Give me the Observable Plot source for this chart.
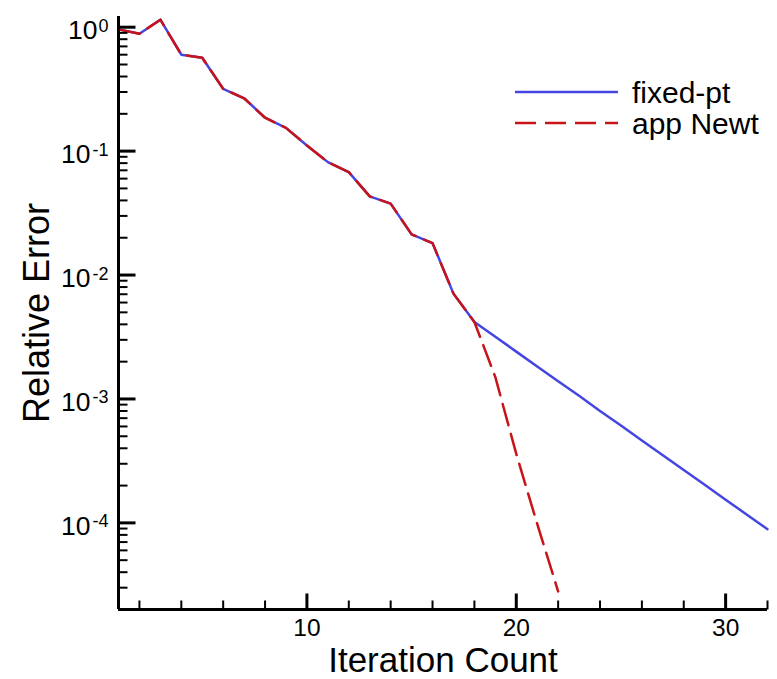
<!DOCTYPE html>
<html>
<head>
<meta charset="utf-8">
<script src="https://cdn.jsdelivr.net/npm/d3@7"></script>
<script src="https://cdn.jsdelivr.net/npm/@observablehq/plot@0.6"></script>
<style>
  body { margin: 0; background: white; }
  #wrap { position: relative; width: 777px; height: 679px; font-family: "Liberation Sans", Arial, sans-serif; }
  #legend { position: absolute; left: 0; top: 0; pointer-events: none; }
</style>
</head>
<body>
<div id="wrap"></div>
<script>
// ---- data ----
const iterations = [1,2,3,4,5,6,7,8,9,10,11,12,13,14,15,16,17,18,19,20,21,22,23,24,25,26,27,28,29,30,31,32];
const fixedPt = [0.96, 0.885, 1.15, 0.60, 0.567, 0.318, 0.267, 0.186, 0.154, 0.111, 0.0815, 0.0677,
  0.0431, 0.0377, 0.0213, 0.0181, 0.00708, 0.00418, 0.00318, 0.00241, 0.00183, 0.00139, 0.00106,
  0.00080, 0.00061, 0.000463, 0.000352, 0.000267, 0.000203, 0.000154, 0.000117, 0.000089];
const appNewt = [0.96, 0.885, 1.15, 0.60, 0.567, 0.318, 0.267, 0.186, 0.154, 0.111, 0.0815, 0.0677,
  0.0431, 0.0377, 0.0213, 0.0181, 0.00708, 0.00418, 0.00150, 0.00036, 0.000098, 0.000028];
const seriesNames = ["fixed-pt", "app Newt"];
const seriesColors = ["#4545e2", "#c81418"];

const xMajorTicks = [10, 20, 30];
const xMinorTicks = [2,4,6,8,12,14,16,18,22,24,26,28,32];
const yMajorTicks = [1, 0.1, 0.01, 0.001, 0.0001];
const yExponents = ["0", "-1", "-2", "-3", "-4"];
const yMinorTicks = [];
for (const d of [1, 0.1, 0.01, 0.001, 0.0001, 0.00001]) for (let m = 2; m <= 9; m++) {
  const v = d * m; if (v >= 2.5e-5 && v <= 1.2) yMinorTicks.push(v);
}

const fixedData = iterations.map((x, i) => ({x, y: fixedPt[i]}));
const newtData = iterations.slice(0, appNewt.length).map((x, i) => ({x, y: appNewt[i]}));

const W = 777, H = 679, mL = 118, mR = 10, mT = 16, mB = 70;
const xDomain = [1, 32], yDomain = [2e-5, 1.22];

// standalone scales matching the plot, used to give the inward ticks a fixed pixel length
const xs = Plot.scale({x: {domain: xDomain, range: [mL, W - mR]}});
const ys = Plot.scale({y: {type: "log", domain: yDomain, range: [H - mB, mT]}});
const tickEndX = (len) => xs.invert(mL + len);
const tickEndY = (len) => ys.invert(H - mB - len);

const yTickSegs = (vals, len) => vals.flatMap((v, i) => [{x: xDomain[0], y: v, k: i}, {x: tickEndX(len), y: v, k: i}]);
const xTickSegs = (vals, len) => vals.flatMap((v, i) => [{x: v, y: yDomain[0], k: i}, {x: v, y: tickEndY(len), k: i}]);

const chart = Plot.plot({
  width: W, height: H,
  marginLeft: mL, marginRight: mR, marginTop: mT, marginBottom: mB,
  x: {domain: xDomain, axis: null},
  y: {type: "log", domain: yDomain, axis: null},
  style: {fontFamily: "'Liberation Sans', Arial, sans-serif", background: "white", color: "black"},
  marks: [
    // y tick labels 10^k
    Plot.text(yMajorTicks, {y: d => d, text: () => "10", frameAnchor: "left", textAnchor: "end",
      lineAnchor: "bottom", dx: -21, dy: 12, fontSize: 26.5, filter: d => d === 1}),
    Plot.text(yMajorTicks, {y: d => d, text: () => "10", frameAnchor: "left", textAnchor: "end",
      lineAnchor: "bottom", dx: -28, dy: 12, fontSize: 26.5, filter: d => d !== 1}),
    Plot.text(yMajorTicks, {y: d => d, text: (d, i) => yExponents[i], frameAnchor: "left", textAnchor: "end",
      lineAnchor: "bottom", dx: -10, dy: 4.5, fontSize: 18}),
    // x tick labels
    Plot.text(xMajorTicks, {x: d => d, text: d => String(d), frameAnchor: "bottom", lineAnchor: "bottom",
      dy: 26.5, fontSize: 24.5}),
    // axis titles
    Plot.text(["Iteration Count"], {frameAnchor: "bottom", lineAnchor: "bottom", textAnchor: "middle", dy: 62.5, fontSize: 35}),
    Plot.text(["Relative Error"], {frameAnchor: "left", lineAnchor: "bottom", textAnchor: "middle", rotate: -90, dx: -70, fontSize: 36}),
    // series
    Plot.line(fixedData, {x: "x", y: "y", stroke: seriesColors[0], strokeWidth: 2.5}),
    Plot.line(newtData, {x: "x", y: "y", stroke: seriesColors[1], strokeWidth: 2.5, strokeDasharray: "22,9"}),
    // axis lines
    Plot.ruleX([1], {strokeWidth: 3, stroke: "black"}),
    Plot.ruleY([2e-5], {strokeWidth: 3, stroke: "black"}),
    // inward tick marks, drawn last
    Plot.line(yTickSegs(yMajorTicks, 17), {x: "x", y: "y", z: "k", stroke: "#000", strokeWidth: 3, strokeLinecap: "butt"}),
    Plot.line(yTickSegs(yMinorTicks, 9), {x: "x", y: "y", z: "k", stroke: "#000", strokeWidth: 2, strokeLinecap: "butt"}),
    Plot.line(xTickSegs(xMajorTicks, 16), {x: "x", y: "y", z: "k", stroke: "#000", strokeWidth: 3, strokeLinecap: "butt"}),
    Plot.line(xTickSegs(xMinorTicks, 9), {x: "x", y: "y", z: "k", stroke: "#000", strokeWidth: 2, strokeLinecap: "butt"})
  ]
});

const wrap = document.getElementById("wrap");
wrap.appendChild(chart);

// legend overlay (inside plot area, top right)
const ns = "http://www.w3.org/2000/svg";
const leg = document.createElementNS(ns, "svg");
leg.setAttribute("id", "legend");
leg.setAttribute("width", W);
leg.setAttribute("height", H);
const rows = [{y: 92}, {y: 123}];
seriesNames.forEach((name, i) => {
  const ln = document.createElementNS(ns, "line");
  ln.setAttribute("x1", 515); ln.setAttribute("x2", 618);
  ln.setAttribute("y1", rows[i].y); ln.setAttribute("y2", rows[i].y);
  ln.setAttribute("stroke", seriesColors[i]);
  ln.setAttribute("stroke-width", 2.5);
  if (i === 1) ln.setAttribute("stroke-dasharray", "21,9");
  leg.appendChild(ln);
  const t = document.createElementNS(ns, "text");
  t.setAttribute("x", 632);
  t.setAttribute("y", rows[i].y + 11);
  t.setAttribute("font-size", 30);
  t.setAttribute("font-family", "'Liberation Sans', Arial, sans-serif");
  t.textContent = name;
  leg.appendChild(t);
});
wrap.appendChild(leg);
</script>
</body>
</html>
